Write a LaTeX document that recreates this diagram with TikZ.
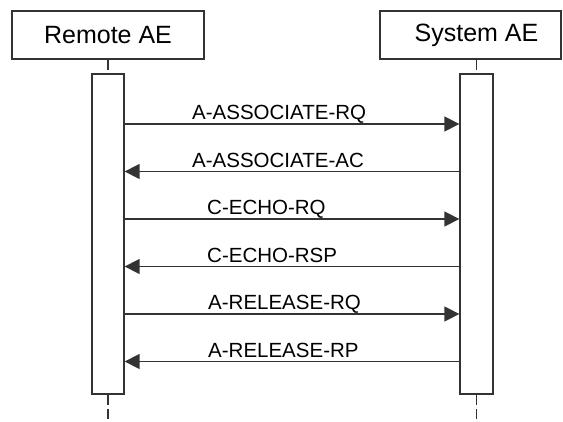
\documentclass[tikz,border=0pt]{standalone}
\usepackage{fontspec}
\setmainfont{Liberation Sans}
\usepackage{tikz}
\usetikzlibrary{positioning,arrows.meta}

\begin{document}
\begin{tikzpicture}[x=1pt,y=-1pt]
    \tikzstyle{actor} = [draw=black!80,line width=1.3pt,rectangle,fill=none,minimum height=48pt,inner sep=0pt,font=\fontsize{25}{28}\selectfont]
    \tikzstyle{activity} = [draw=black!80,line width=1.3pt,rectangle,fill=white,minimum width=32pt,minimum height=320pt,inner sep=0pt]
    \tikzstyle{lifeline} = [draw=black!80,line width=1.3pt,dash pattern=on 10pt off 4pt]
    \tikzstyle{msg} = [draw=black!80,line width=1.4pt,-{Triangle[length=15pt,width=15pt]}]
    \tikzstyle{msglabel} = [inner sep=0pt,anchor=base west,font=\fontsize{20.5}{23}\selectfont]
    \useasboundingbox (0,0) rectangle (563,422);
    % participants
    \node[actor,minimum width=192pt] (remote) at (108,35) {Remote AE};
    \node[actor,minimum width=181pt] (system) at (470.5,35) {\hspace*{12pt}System AE};
    \node[activity] (rbar) at (108,234) {};
    \node[activity,minimum width=33pt] (sbar) at (476.5,234) {};
    \coordinate (rend) at (108,422);
    \coordinate (send) at (476.5,422);
    \draw[lifeline] (remote.south) -- (rbar.north);
    \draw[lifeline] (system.south -| sbar.north) -- (sbar.north);
    \draw[lifeline] (rbar.south) -- (rend);
    \draw[lifeline] (sbar.south) -- (send);
    % messages
    \coordinate (m1) at (0,124);
    \coordinate (m2) at (0,171.5);
    \coordinate (m3) at (0,219);
    \coordinate (m4) at (0,266.5);
    \coordinate (m5) at (0,314);
    \coordinate (m6) at (0,361.5);
    \draw[msg] (rbar.east |- m1) -- (sbar.west |- m1);
    \draw[msg] (sbar.west |- m2) -- (rbar.east |- m2);
    \draw[msg] (rbar.east |- m3) -- (sbar.west |- m3);
    \draw[msg] (sbar.west |- m4) -- (rbar.east |- m4);
    \draw[msg] (rbar.east |- m5) -- (sbar.west |- m5);
    \draw[msg] (sbar.west |- m6) -- (rbar.east |- m6);
    \node[msglabel] (label1) at (192,120) {A-ASSOCIATE-RQ};
    \node[msglabel] (label2) at (192,167.5) {A-ASSOCIATE-AC};
    \node[msglabel] (label3) at (207,215) {C-ECHO-RQ};
    \node[msglabel] (label4) at (207,262.5) {C-ECHO-RSP};
    \node[msglabel] (label5) at (208,310) {A-RELEASE-RQ};
    \node[msglabel] (label6) at (208,357.5) {A-RELEASE-RP};
\end{tikzpicture}
\end{document}
